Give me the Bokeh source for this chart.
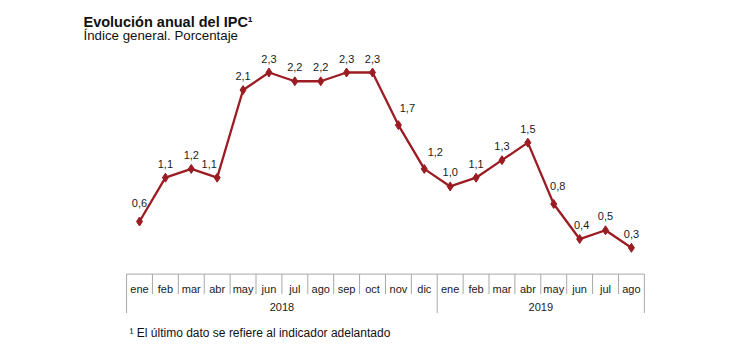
from bokeh.plotting import figure
from bokeh.models import ColumnDataSource, Label, Range1d
from bokeh.core.properties import value
from bokeh.embed import file_html
from bokeh.resources import INLINE

# ---- data ----
months = ["ene", "feb", "mar", "abr", "may", "jun", "jul", "ago", "sep", "oct", "nov", "dic",
          "ene", "feb", "mar", "abr", "may", "jun", "jul", "ago"]
years = ["2018", "2019"]
year_counts = [12, 8]
ipc = [0.6, 1.1, 1.2, 1.1, 2.1, 2.3, 2.2, 2.2, 2.3, 2.3, 1.7, 1.2,
       1.0, 1.1, 1.3, 1.5, 0.8, 0.4, 0.5, 0.3]
labels = [f"{v:.1f}".replace(".", ",") for v in ipc]

# label nudges in pixels (style only)
lab_dx = [0, 0, 0, -8, 0, 0, 0, 0, 0, 0, 9, 11, 0, 0, 0, 0, 4, 2, 0, 0]
lab_dy = [19, 14, 14, 14, 14, 14, 14, 14, 14, 14, 17, 17, 14, 14, 14, 14, 18, 14, 14, 14]

W, H = 745, 345
PX_X = 25.89     # pixels per category
PX_Y = 87.65     # pixels per unit
X0 = 139         # canvas x of first category
Y0 = 273.6       # canvas y of value 0 (table top)

FONT = "Liberation Sans"
RED = "#9B1C23"
GRID = "#A8A8A8"

n = len(ipc)
xs = list(range(n))

p = figure(width=W, height=H, output_backend="svg", toolbar_location=None,
           x_range=Range1d(-X0 / PX_X, (W - X0) / PX_X),
           y_range=Range1d(-(H - Y0) / PX_Y, Y0 / PX_Y),
           x_axis_location=None, y_axis_location=None, min_border=0,
           outline_line_color=None)
p.grid.visible = False
p.background_fill_color = "white"
p.border_fill_color = "white"


def dn(px):
    return -px / PX_Y


# ---- table below the chart ----
top = 0.0
p.segment(x0=[-0.5], y0=[top], x1=[n - 0.5], y1=[top], line_color=GRID, line_width=1)
inner = [i - 0.5 for i in range(n + 1)]
group_edges = [-0.5]
acc = -0.5
for c in year_counts:
    acc += c
    group_edges.append(acc)
month_only = [x for x in inner if x not in group_edges]
p.segment(x0=month_only, y0=[top] * len(month_only), x1=month_only,
          y1=[dn(20)] * len(month_only), line_color=GRID, line_width=1)
p.segment(x0=group_edges, y0=[top] * len(group_edges), x1=group_edges,
          y1=[dn(39)] * len(group_edges), line_color=GRID, line_width=1)

p.text(x=xs, y=[dn(14.5)] * n, text=months, text_font=value(FONT), text_font_size="11px",
       text_align="center", text_baseline="alphabetic", text_color="#1a1a1a")
year_centers = []
start = 0
for c in year_counts:
    year_centers.append(start + (c - 1) / 2)
    start += c
p.text(x=year_centers, y=[dn(33)] * len(years), text=years, text_font=value(FONT),
       text_font_size="11px", text_align="center", text_baseline="alphabetic",
       text_color="#1a1a1a")

# ---- series ----
src = ColumnDataSource(dict(
    x=xs, y=ipc, lab=labels,
    lx=[x + dx / PX_X for x, dx in zip(xs, lab_dx)],
    ly=[v + dy / PX_Y for v, dy in zip(ipc, lab_dy)],
))
p.line("x", "y", source=src, line_color=RED, line_width=2.3)
p.scatter("x", "y", source=src, marker="diamond", size=9, fill_color=RED, line_color=RED)
p.text("lx", "ly", text="lab", source=src, text_font=value(FONT), text_font_size="11px",
       text_align="center", text_baseline="alphabetic", text_color="#1a1a1a")

# ---- titles & footnote ----
p.add_layout(Label(x=83, y=H - 21, x_units="screen", y_units="screen",
                   text="Evolución anual del IPC¹", text_font=FONT, text_font_size="14.5px",
                   text_font_style="bold", text_baseline="alphabetic", text_color="#111111"))
p.add_layout(Label(x=83, y=H - 35, x_units="screen", y_units="screen",
                   text="Índice general. Porcentaje", text_font=FONT, text_font_size="13.3px",
                   text_baseline="alphabetic", text_color="#111111"))
p.add_layout(Label(x=129, y=H - 332, x_units="screen", y_units="screen",
                   text="¹ El último dato se refiere al indicador adelantado", text_font=FONT,
                   text_font_size="12px", text_baseline="alphabetic", text_color="#111111"))

open("out.html", "w").write(file_html(p, INLINE))
